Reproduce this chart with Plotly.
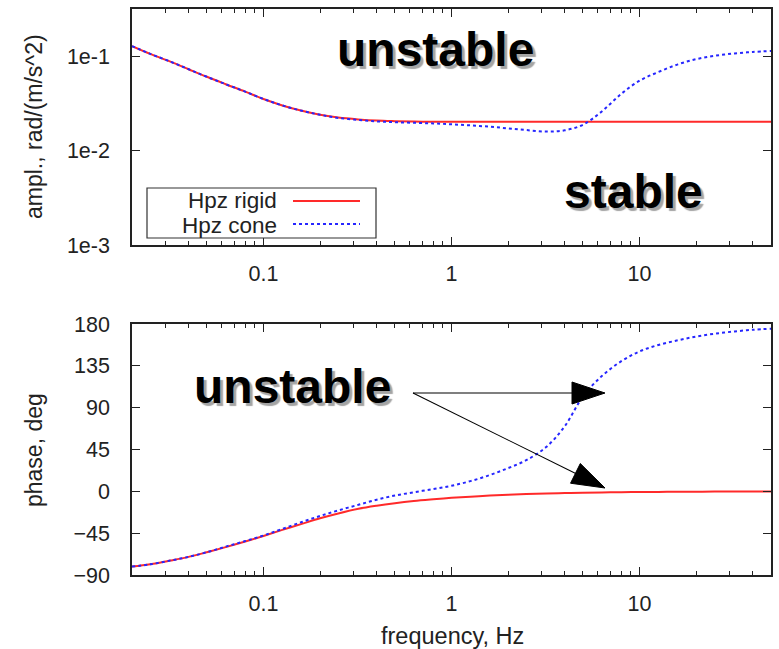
import math
import plotly.graph_objects as go
from plotly.subplots import make_subplots

# frequency grid, Hz
freq = [0.02, 0.025, 0.032, 0.04, 0.05, 0.063, 0.08, 0.1, 0.126, 0.16, 0.2, 0.25,
        0.32, 0.4, 0.5, 0.63, 0.8, 1, 1.26, 1.6, 2, 2.5, 3.2, 4, 5, 6.3, 8, 10,
        12.6, 16, 20, 25, 32, 40, 50]

# amplitude, rad/(m/s^2)
amp_rigid = [0.128, 0.1059, 0.0877, 0.0728, 0.0605, 0.0505, 0.0421, 0.0352,
             0.0301, 0.0264, 0.0240, 0.0224, 0.0214, 0.0208, 0.0205, 0.0203,
             0.0202, 0.0202, 0.0202, 0.0202, 0.0202, 0.0202, 0.0202, 0.0202,
             0.0202, 0.0202, 0.0202, 0.0202, 0.0202, 0.0202, 0.0202, 0.0202,
             0.0202, 0.0202, 0.0202]
amp_cone = [0.128, 0.1059, 0.0877, 0.0728, 0.0605, 0.0505, 0.0421, 0.0352,
            0.0301, 0.0264, 0.0240, 0.0222, 0.0211, 0.0204, 0.0200, 0.0197,
            0.0194, 0.0190, 0.0185, 0.0179, 0.0172, 0.0165, 0.0159, 0.0164,
            0.0188, 0.0260, 0.0400, 0.0550, 0.0680, 0.0820, 0.0930, 0.1010,
            0.1070, 0.1110, 0.1135]

# phase, deg
phase_rigid = [-81, -78.5, -74.5, -70.5, -65.5, -60, -54, -48, -41.5, -35,
               -29, -23.8, -18.8, -15.5, -12.8, -10.5, -8.6, -7, -5.7, -4.6, -3.7,
               -3, -2.4, -1.9, -1.5, -1.2, -0.95, -0.75, -0.6, -0.48, -0.38,
               -0.3, -0.23, -0.18, -0.15]
phase_cone = [-81, -78.5, -74.5, -70.5, -65.5, -59.5, -53.5, -47.5, -40.5, -33,
              -26.5, -20.5, -14.5, -9, -4.5, -1, 2.5, 6, 11, 17.5, 25, 33.5, 48,
              70, 102, 124, 140, 150.5, 157.5, 162.5, 166.5, 169.5, 172, 173.8,
              175]

amp_ticks = [0.001, 0.01, 0.1]
amp_ticktext = ["1e-3", "1e-2", "1e-1"]
freq_ticks = [0.1, 1, 10]
freq_ticktext = ["0.1", "1", "10"]
phase_ticks = [-90, -45, 0, 45, 90, 135, 180]

FONT = "Liberation Sans, Arial, Helvetica, sans-serif"
RED = "#ff2a2a"
BLUE = "#2626ff"

# page geometry (pixels) of the stacked plot areas
W, H = 779, 649
L, R, T, B = 132, 771, 9, 575
TOP_BOTTOM, BOT_TOP = 245, 324


def px(x, y):
    """Pixel position -> paper coordinates."""
    return (x - L) / (R - L), (B - y) / (B - T)


fig = make_subplots(rows=2, cols=1, shared_xaxes=False, vertical_spacing=0)

fig.add_trace(go.Scatter(x=freq, y=amp_rigid, name="Hpz rigid", mode="lines",
                         line=dict(color=RED, width=2, shape="spline")), row=1, col=1)
fig.add_trace(go.Scatter(x=freq, y=amp_cone, name="Hpz cone", mode="lines",
                         line=dict(color=BLUE, width=2, dash="dot", shape="spline")),
              row=1, col=1)
fig.add_trace(go.Scatter(x=freq, y=phase_rigid, name="Hpz rigid", mode="lines",
                         line=dict(color=RED, width=2, shape="spline")), row=2, col=1)
fig.add_trace(go.Scatter(x=freq, y=phase_cone, name="Hpz cone", mode="lines",
                         line=dict(color=BLUE, width=2, dash="dot", shape="spline")),
              row=2, col=1)

minor_freq = [round(m * 10 ** e, 4) for e in (-2, -1, 0, 1) for m in range(2, 10)
              if 0.02 <= m * 10 ** e <= 50]

axis_common = dict(showline=True, linecolor="#222", linewidth=1.5, mirror="allticks",
                   ticks="inside", ticklen=8, tickwidth=1.2, tickcolor="#222",
                   showgrid=False, zeroline=False,
                   tickfont=dict(family=FONT, size=21.5, color="#222"))

y_dom_top = [px(0, TOP_BOTTOM)[1], 1]
y_dom_bot = [0, px(0, BOT_TOP)[1]]

for ax in ("xaxis", "xaxis2"):
    fig.update_layout({ax: dict(type="log", range=[math.log10(0.02), math.log10(50)],
                                tickvals=freq_ticks, ticktext=freq_ticktext,
                                ticklabelstandoff=8,
                                minor=dict(tickvals=minor_freq, ticks="inside",
                                           ticklen=4, tickwidth=1, tickcolor="#222"),
                                **axis_common)})

fig.update_layout(
    yaxis=dict(type="log", range=[-3, -0.5], tickvals=amp_ticks,
               ticktext=amp_ticktext, domain=y_dom_top, ticklabelstandoff=16,
               **axis_common),
    yaxis2=dict(range=[-90, 180], tickvals=phase_ticks, domain=y_dom_bot,
                ticklabelstandoff=16, **axis_common),
)

annotations = []
shapes = []


def label(text, x, y, size, angle=0, bold=False, anchor="center"):
    fx, fy = px(x, y)
    txt = f"<b>{text}</b>" if bold else text
    font = dict(family=FONT, size=size, color="#000" if bold else "#222")
    if bold:
        font["shadow"] = "3px 3px 1px #a4a4a4"
    annotations.append(dict(x=fx, y=fy, xref="paper", yref="paper", text=txt,
                            showarrow=False, xanchor=anchor, yanchor="middle",
                            textangle=angle, font=font))


# region labels
label("unstable", 435, 50, 48, bold=True)
label("stable", 633, 192, 48, bold=True)
label("unstable", 292, 386, 48, bold=True)

# axis titles
label("ampl., rad/(m/s^2)", 34, 127, 23, angle=-90)
label("phase, deg", 34, 450, 23, angle=-90)
label("frequency, Hz", 452, 636, 23.5)


def arrow(x0, y0, x1, y1, color, width, head_len=33, head_w=22):
    d = math.hypot(x1 - x0, y1 - y0)
    ux, uy = (x1 - x0) / d, (y1 - y0) / d
    bx, by = x1 - ux * head_len, y1 - uy * head_len
    a0, b0 = px(x0, y0)
    a1, b1 = px(bx + ux * 2, by + uy * 2)
    shapes.append(dict(type="line", xref="paper", yref="paper", x0=a0, y0=b0,
                       x1=a1, y1=b1, line=dict(color=color, width=width)))
    nx, ny = -uy, ux
    pts = [(x1, y1), (bx + nx * head_w / 2, by + ny * head_w / 2),
           (bx - nx * head_w / 2, by - ny * head_w / 2)]
    pp = [px(*p) for p in pts]
    path = "M{} {} L{} {} L{} {} Z".format(pp[0][0], pp[0][1], pp[1][0], pp[1][1],
                                          pp[2][0], pp[2][1])
    shapes.append(dict(type="path", xref="paper", yref="paper", path=path,
                       fillcolor="#000", line=dict(color="#000", width=1)))


arrow(413, 393, 605, 393, "#555", 1.6)
arrow(413, 393, 605, 488, "#000", 1.1)

# legend box in the lower left of the amplitude panel
lx0, ly0 = px(147, 188)
lx1, ly1 = px(376, 238)
shapes.append(dict(type="rect", xref="paper", yref="paper", x0=lx0, y0=ly0, x1=lx1,
                   y1=ly1, line=dict(color="#333", width=1.2), fillcolor="white"))
label("Hpz rigid", 279, 201, 22.5, anchor="right")
label("Hpz cone", 279, 225, 22.5, anchor="right")
for yy, col, dash in ((201, RED, "solid"), (224, BLUE, "dot")):
    a0, b0 = px(293, yy)
    a1, b1 = px(360, yy)
    shapes.append(dict(type="line", xref="paper", yref="paper", x0=a0, y0=b0,
                       x1=a1, y1=b1, line=dict(color=col, width=2, dash=dash)))

fig.update_layout(
    width=W, height=H,
    margin=dict(l=L, r=W - R, t=T, b=H - B, autoexpand=False),
    paper_bgcolor="white", plot_bgcolor="white",
    showlegend=False,
    annotations=annotations, shapes=shapes,
)

fig.write_html("out.html")
